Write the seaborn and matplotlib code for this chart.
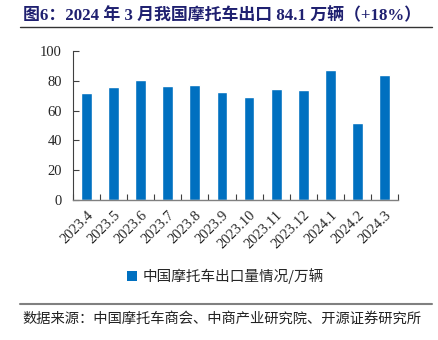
import matplotlib
matplotlib.use("Agg")
import matplotlib.pyplot as plt
import seaborn as sns
import pandas as pd
from matplotlib.patches import Patch
from matplotlib.lines import Line2D

categories = ["2023.4", "2023.5", "2023.6", "2023.7", "2023.8", "2023.9",
              "2023.10", "2023.11", "2023.12", "2024.1", "2024.2", "2024.3"]
values = [71.6, 75.6, 80.3, 76.3, 77.2, 72.3, 68.9, 74.3, 73.8, 87.0, 51.7, 84.1]
yticks = [0, 20, 40, 60, 80, 100]
series_name = "中国摩托车出口量情况/万辆"
title = "图6：2024 年 3 月我国摩托车出口 84.1 万辆（+18%）"
source = "数据来源：中国摩托车商会、中商产业研究院、开源证券研究所"

sns.set_theme(style="white")
plt.rcParams['font.family'] = ['Liberation Serif', 'Noto Sans CJK SC']

BLUE = "#0070C0"
df = pd.DataFrame({"month": categories, "value": values})

fig = plt.figure(figsize=(4.38, 3.40), dpi=100)
ax = fig.add_axes([73/438, 1-200/340, (398-73)/438, (200-51)/340])
sns.barplot(data=df, x="month", y="value", color=BLUE, width=0.4,
            saturation=1, ax=ax)

ax.set_xlim(-0.5, len(categories) - 0.5)
ax.set_ylim(0, 100)
ax.set_yticks(yticks)
ax.set_yticklabels([str(t) for t in yticks], fontsize=10.5,
                   family='Liberation Serif')
ax.set_xticks(range(len(categories)))
ax.set_xticklabels(categories, rotation=45, ha='right', rotation_mode='anchor',
                   fontsize=10.5, family='Liberation Serif')
ax.set_xticks([i + 0.5 for i in range(-1, len(categories))], minor=True)
ax.tick_params(axis='x', which='major', length=0, pad=6)
ax.tick_params(axis='x', which='minor', direction='in', length=4, width=0.8,
               color='#404040', bottom=True)
ax.tick_params(axis='y', direction='in', length=4, width=0.8, color='#404040',
               left=True, pad=8)
ax.set_xlabel("")
ax.set_ylabel("")
for s in ['top', 'right']:
    ax.spines[s].set_visible(False)
ax.spines['left'].set_color('#404040')
ax.spines['bottom'].set_color('#808080')
ax.spines['left'].set_linewidth(0.8)
ax.spines['bottom'].set_linewidth(1.0)

# title
fig.text(23/438, 1-16/340, title, fontsize=12.2, fontweight='bold',
         color='#1F2070', va='center', ha='left',
         family=['Liberation Serif', 'Noto Sans CJK SC'])
fig.add_artist(Line2D([20/438, 432/438], [1-27/340, 1-27/340],
                      color='#333333', lw=1.0))

# legend
handle = Patch(facecolor=BLUE, edgecolor='none')
fig.legend([handle], [series_name], loc='center', bbox_to_anchor=(0.515, 1-276/340),
           frameon=False, handlelength=0.7, handleheight=0.7, handletextpad=0.4,
           prop={'family': 'Noto Sans CJK SC', 'size': 10.5})

# source
fig.add_artist(Line2D([20/438, 432/438], [1-304/340, 1-304/340],
                      color='#808080', lw=1.5))
fig.text(22/438, 1-319/340, source, fontsize=10.3, color='#222222',
         va='center', ha='left', family='Noto Sans CJK SC')

fig.savefig("out.png", dpi=100)
